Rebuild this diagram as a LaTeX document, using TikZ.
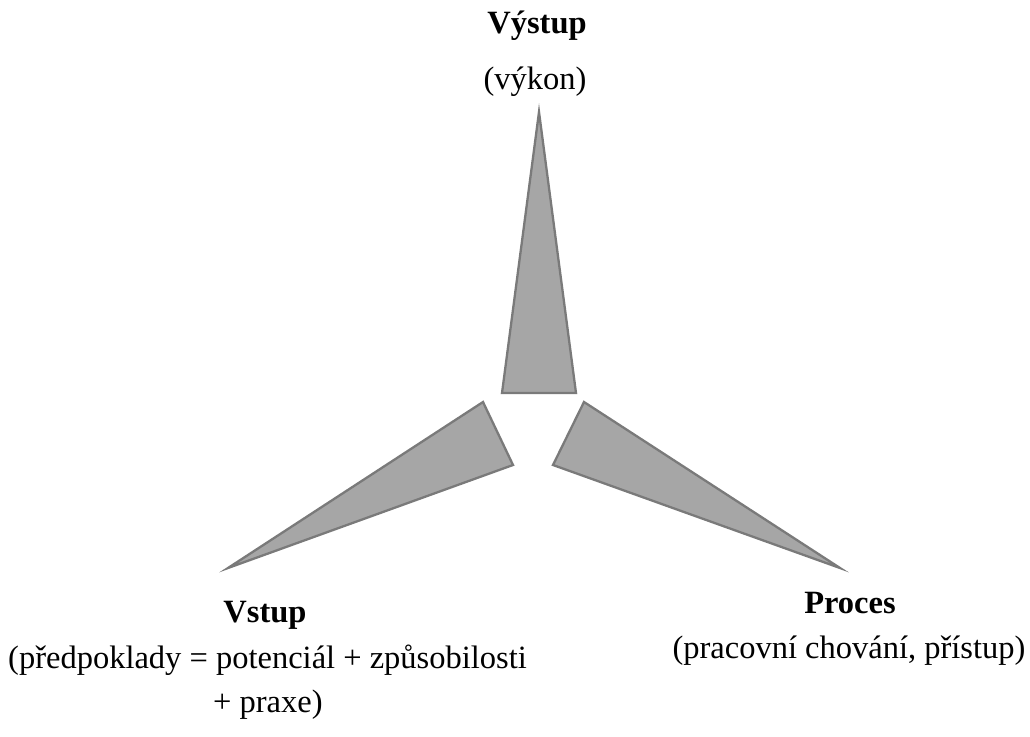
\documentclass[tikz,border=0pt]{standalone}
\usepackage{fontspec}
\setmainfont{Liberation Serif}
\definecolor{bladefill}{HTML}{A6A6A6}
\definecolor{bladeline}{HTML}{7A7A7A}
\begin{document}
\begin{tikzpicture}[x=1pt,y=-1pt,
  blade/.style={fill=bladefill,draw=bladeline,line width=2.3pt,line join=miter},
  lbl/.style={inner sep=0pt,font=\fontsize{32.5}{38}\selectfont}]
\useasboundingbox (0,0) rectangle (1030,736);
% blades
\draw[blade] (539,112) -- (576,393) -- (502,393) -- cycle;
\draw[blade] (228,568) -- (483,402) -- (513,465) -- cycle;
\draw[blade] (840,568) -- (584,402) -- (553,465) -- cycle;
% labels
\node[lbl,anchor=base] (out) at (537,33) {\textbf{Výstup}};
\node[lbl,anchor=base] (outsub) at (535,89) {(výkon)};
\node[lbl,anchor=base] (in) at (265,622) {\textbf{Vstup}};
\node[lbl,anchor=base west] (insub) at (8,668) {(předpoklady = potenciál + způsobilosti};
\node[lbl,anchor=base west] (insub2) at (213,712) {+ praxe)};
\node[lbl,anchor=base] (proc) at (850,613) {\textbf{Proces}};
\node[lbl,anchor=base] (procsub) at (849,658) {(pracovní chování, přístup)};
\end{tikzpicture}
\end{document}
